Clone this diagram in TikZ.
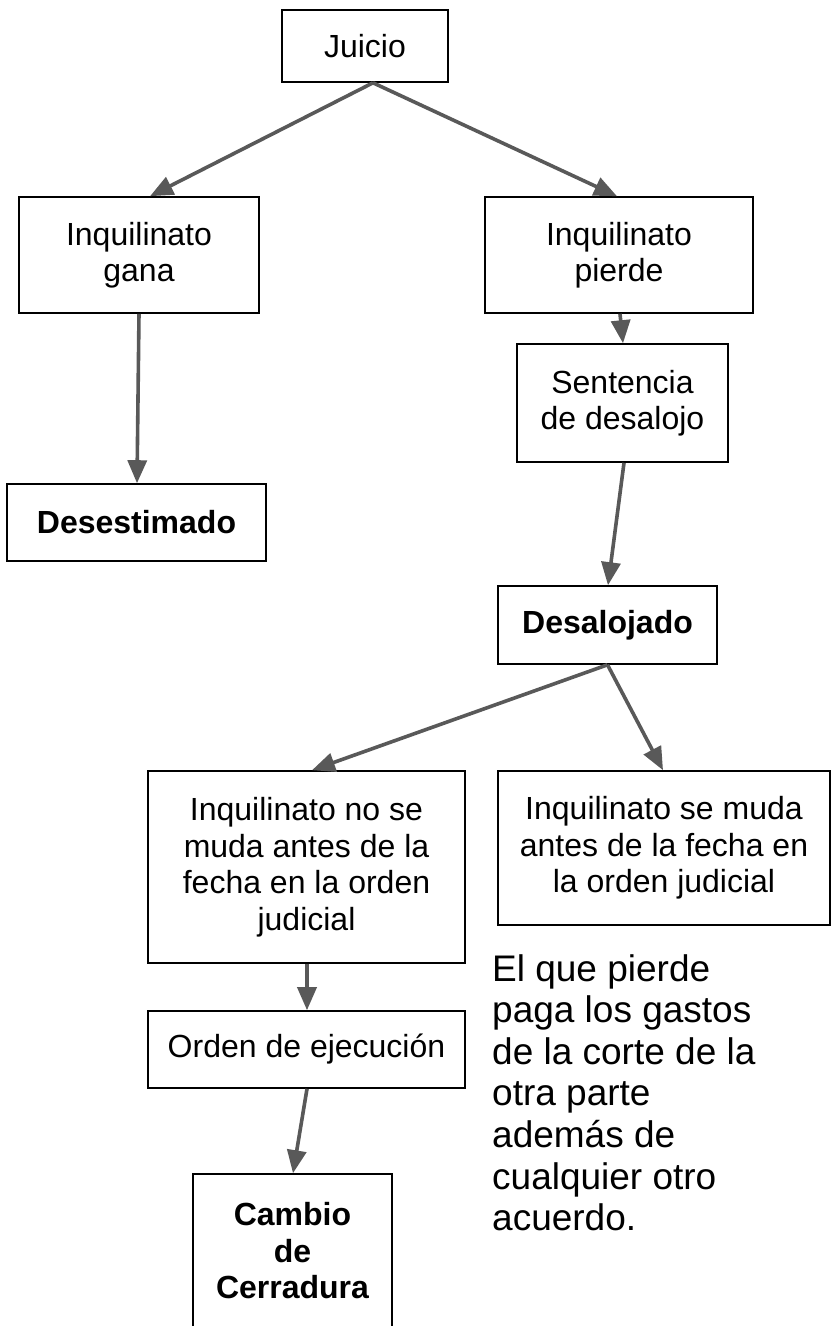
\documentclass[tikz,border=0pt]{standalone}
\usepackage{fontspec}
\setmainfont{Liberation Sans}
\usetikzlibrary{arrows.meta}
\definecolor{arrgray}{HTML}{595959}
\tikzset{
  box/.style={draw=black, line width=1.6pt, fill=white, inner sep=0pt, align=center,
    font=\fontsize{32}{36.5}\selectfont},
  bbox/.style={box, font=\fontsize{32}{36.5}\selectfont\bfseries},
  arr/.style={draw=arrgray, line width=3.6pt, -{Triangle[length=23pt,width=19pt]}},
  note/.style={inner sep=0pt, align=left, font=\fontsize{37}{41.6}\selectfont}
}
\begin{document}
\begin{tikzpicture}[x=1pt,y=-1pt]
\useasboundingbox (0,0) rectangle (835,1326);
\fill[white] (0,0) rectangle (835,1326);
\node[box, minimum width=166pt, minimum height=72pt] (juicio) at (365,46) {Juicio};
\node[box, minimum width=240pt, minimum height=116pt] (gana) at (139,255) {Inquilinato\\gana};
\node[box, minimum width=268pt, minimum height=116pt] (pierde) at (619,255) {Inquilinato\\pierde};
\node[box, minimum width=211pt, minimum height=118pt] (sentencia) at (622.5,403) {Sentencia\\de desalojo};
\node[bbox, minimum width=259pt, minimum height=77pt] (desest) at (136.5,522.5) {Desestimado};
\node[bbox, minimum width=219pt, minimum height=78pt] (desalojado) at (607.5,625) {Desalojado};
\node[box, minimum width=317pt, minimum height=192pt] (nomuda) at (306.5,867) {Inquilinato no se\\muda antes de la\\fecha en la orden\\judicial};
\node[box, minimum width=332pt, minimum height=154pt] (muda) at (664,848) {Inquilinato se muda\\antes de la fecha en\\la orden judicial};
\node[box, minimum width=317pt, minimum height=77pt] (orden) at (306.5,1049.5) {Orden de ejecución};
\node[bbox, minimum width=199pt, minimum height=154pt] (cambio) at (292.5,1251) {Cambio\\de\\Cerradura};
\node[note, anchor=north west] (nota) at (492,954) {El que pierde\\paga los gastos\\de la corte de la\\otra parte\\además de\\cualquier otro\\acuerdo.};

\draw[arr] ([xshift=8pt]juicio.south) -- ([xshift=11pt]gana.north);
\draw[arr] ([xshift=8pt]juicio.south) -- ([xshift=-2pt]pierde.north);
\draw[arr] (gana.south) -- ([xshift=0.5pt]desest.north);
\draw[arr] ([xshift=1pt]pierde.south) -- ([xshift=0.5pt]sentencia.north);
\draw[arr] ([xshift=1.5pt]sentencia.south) -- ([xshift=0.5pt]desalojado.north);
\draw[arr] (desalojado.south) -- ([xshift=5.5pt]nomuda.north);
\draw[arr] (desalojado.south) -- ([xshift=-1pt]muda.north);
\draw[arr] ([xshift=0.5pt]nomuda.south) -- ([xshift=0.5pt]orden.north);
\draw[arr] ([xshift=0.5pt]orden.south) -- ([xshift=0.5pt]cambio.north);
\end{tikzpicture}
\end{document}
